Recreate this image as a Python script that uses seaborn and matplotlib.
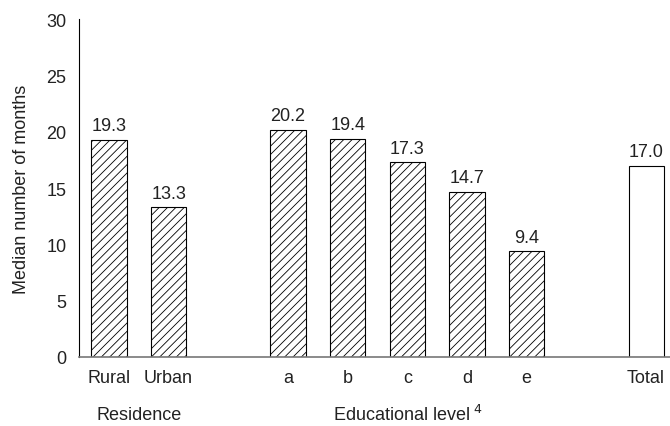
import matplotlib
matplotlib.use("Agg")
import matplotlib.pyplot as plt
import seaborn as sns
import pandas as pd

categories = ["Rural", "Urban", "a", "b", "c", "d", "e", "Total"]
groups = ["Residence", "Residence", "Educational level", "Educational level",
          "Educational level", "Educational level", "Educational level", "Total"]
values = [19.3, 13.3, 20.2, 19.4, 17.3, 14.7, 9.4, 17.0]
group_titles = ["Residence", "Educational level$^{\\ 4}$"]

# slot positions: one empty slot between groups
pos = []
p = 0
for i, g in enumerate(groups):
    if i > 0 and g != groups[i - 1]:
        p += 1
    pos.append(p)
    p += 1

df = pd.DataFrame({"category": categories, "group": groups,
                   "value": values, "pos": pos})

sns.set_style("white")
plt.rcParams["font.family"] = ["Liberation Sans", "DejaVu Sans"]
plt.rcParams["hatch.linewidth"] = 0.6

FS = 13
TXT = "#222222"

fig = plt.figure(figsize=(6.7, 4.27), dpi=100)
ax = fig.add_axes([0.118, 0.162, 0.882, 0.79])

sns.barplot(data=df, x="pos", y="value", native_scale=True, width=0.59,
            color="white", edgecolor="black", linewidth=0.8, ax=ax)

for bar, g in zip(ax.patches, df["group"]):
    if g != "Total":
        bar.set_hatch("////")

for x, v in zip(df["pos"], df["value"]):
    ax.text(x, v + 0.5, f"{v:.1f}", ha="center", va="bottom", fontsize=FS,
            color=TXT)

ax.set_xlim(-0.5, 9.4)
ax.set_ylim(0, 30)
ax.set_yticks(range(0, 31, 5))
ax.set_xticks(df["pos"])
ax.set_xticklabels(df["category"], fontsize=FS, color=TXT)
ax.tick_params(axis="x", length=0, pad=9)
ax.tick_params(axis="y", direction="in", length=6, width=0.8, labelsize=FS,
               labelcolor=TXT, pad=9)
ax.set_xlabel("")
ax.set_ylabel("Median number of months", fontsize=FS, color=TXT, labelpad=12)

for s in ["top", "right"]:
    ax.spines[s].set_visible(False)
ax.spines["left"].set_linewidth(0.8)
ax.spines["left"].set_color("black")
ax.spines["bottom"].set_color("#777777")
ax.spines["bottom"].set_linewidth(1.2)

# group titles under the tick labels
res_x = df.loc[df["group"] == "Residence", "pos"].mean()
edu_x = df.loc[df["group"] == "Educational level", "pos"].mean()
for x, t in zip([res_x, edu_x], group_titles):
    ax.text(x, -0.17, t, transform=ax.get_xaxis_transform(), ha="center",
            va="center", fontsize=FS, color=TXT)

fig.savefig("out.png", dpi=100)
